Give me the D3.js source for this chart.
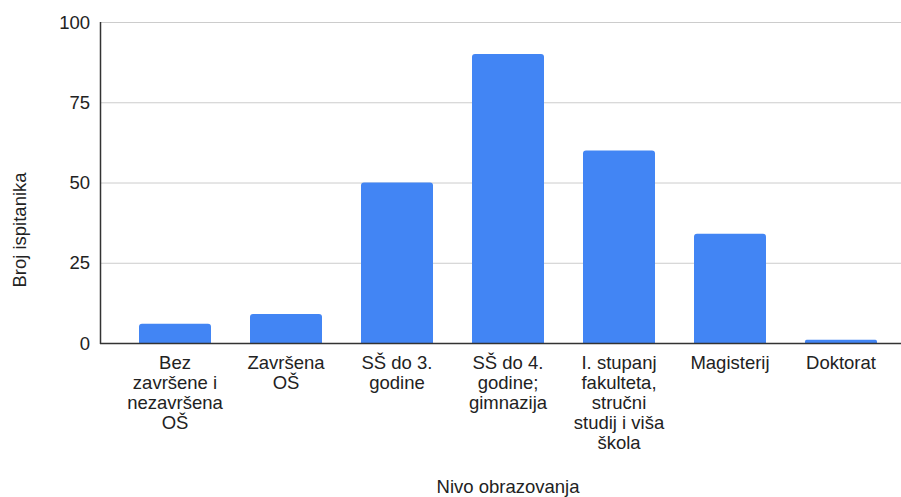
<!DOCTYPE html>
<html>
<head>
<meta charset="utf-8">
<script src="https://cdn.jsdelivr.net/npm/d3@7/dist/d3.min.js"></script>
<style>
  html, body { margin: 0; padding: 0; background: #fff; }
  svg { display: block; font-family: "Liberation Sans", Arial, sans-serif; }
</style>
</head>
<body>
<svg id="chart" width="901" height="497"></svg>
<script>
const categories = [
  "Bez\nzavršene i\nnezavršena\nOŠ",
  "Završena\nOŠ",
  "SŠ do 3.\ngodine",
  "SŠ do 4.\ngodine;\ngimnazija",
  "I. stupanj\nfakulteta,\nstručni\nstudij i viša\nškola",
  "Magisterij",
  "Doktorat"
];
const values = [6, 9, 50, 90, 60, 34, 1];
const yTicks = [0, 25, 50, 75, 100];
const xTitle = "Nivo obrazovanja";
const yTitle = "Broj ispitanika";

(function () {
const svg = d3.select("#chart");
const mLeft = 100, mRight = 901, mTop = 22, mBottom = 343;
const fs = 18.5;

const x = d3.scaleBand().domain(d3.range(categories.length))
  .range([mLeft, 916]).paddingInner(0.3514).paddingOuter(0.3514);
const y = d3.scaleLinear().domain([0, 100]).range([mBottom, mTop]);

// gridlines
svg.append("g").selectAll("line").data(yTicks.filter(t => t !== 0)).join("line")
  .attr("x1", mLeft).attr("x2", mRight)
  .attr("y1", d => y(d) + 0.5).attr("y2", d => y(d) + 0.5)
  .attr("stroke", "#cccccc").attr("stroke-width", 1);

// y tick labels
svg.append("g").selectAll("text").data(yTicks).join("text")
  .attr("x", 90).attr("y", d => y(d) + 6.5)
  .attr("text-anchor", "end")
  .attr("font-size", fs).attr("fill", "#222")
  .text(d => d);

// bars
svg.append("g").selectAll("path").data(values).join("path")
  .attr("fill", "#4285f4")
  .attr("d", (d, i) => {
    const x0 = x(i), w = x.bandwidth(), y0 = y(d), h = mBottom - y0;
    const r = Math.min(3, h / 2, w / 2);
    return `M${x0},${mBottom}V${y0 + r}Q${x0},${y0} ${x0 + r},${y0}H${x0 + w - r}Q${x0 + w},${y0} ${x0 + w},${y0 + r}V${mBottom}Z`;
  });

// axes lines
svg.append("line").attr("x1", mLeft + 0.5).attr("x2", mLeft + 0.5)
  .attr("y1", mTop).attr("y2", mBottom + 1)
  .attr("stroke", "#333").attr("stroke-width", 1.5);
svg.append("line").attr("x1", mLeft).attr("x2", mRight)
  .attr("y1", mBottom + 0.5).attr("y2", mBottom + 0.5)
  .attr("stroke", "#333").attr("stroke-width", 1.5);

// category labels
const lab = svg.append("g").selectAll("text").data(categories).join("text")
  .attr("text-anchor", "middle")
  .attr("font-size", fs).attr("fill", "#222")
  .attr("transform", (d, i) => `translate(${x(i) + x.bandwidth() / 2},369)`);
lab.selectAll("tspan").data(d => d.split("\n")).join("tspan")
  .attr("x", 0).attr("y", (d, j) => j * 20)
  .text(d => d);

// axis titles
svg.append("text").attr("x", 508).attr("y", 493)
  .attr("text-anchor", "middle").attr("font-size", fs).attr("fill", "#222")
  .text(xTitle);
svg.append("text")
  .attr("transform", "translate(25.5,230) rotate(-90)")
  .attr("text-anchor", "middle").attr("font-size", fs).attr("fill", "#222")
  .text(yTitle);
})();
</script>
</body>
</html>
